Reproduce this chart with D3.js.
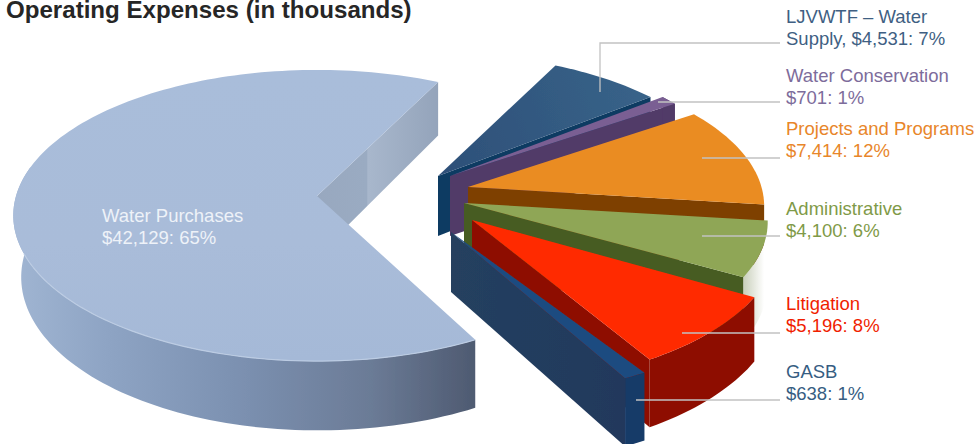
<!DOCTYPE html>
<html><head><meta charset="utf-8">
<script src="https://cdn.jsdelivr.net/npm/d3@7"></script>
<style>html,body{margin:0;padding:0;background:#fff}svg{display:block}text{font-family:"Liberation Sans",Arial,sans-serif}</style>
</head><body><svg id="c" width="979" height="444"></svg>
<script>
// ---- data ----
const categories = ["Water Purchases","LJVWTF – Water Supply","Water Conservation","Projects and Programs","Administrative","Litigation","GASB"];
const values = [42129,4531,701,7414,4100,5196,638];
const percents = [65,7,1,12,6,8,1];

// ---- style / layout ----
const topColors  = ["#a8bcd9","#34597f","#7a5f93","#ea8c24","#8fa657","#ff2a00","#1f4c80"];
const sideColors = ["#8d9fb8","#0f3a62","#513a68","#7e3f00","#465c22","#8e1000","#24395a"];
const rimColors  = ["url(#bigRim)",null,"#513a68",null,"url(#paleRim)","#8e1000","#143a68"];
const origins = [[317,196],[438,176],[450,176],[468,187],[464,203],[472,220],[451,232]];
const radiusScale = [1,0.97,0.97,0.975,1.0,1.01,1.1];
const yScale = [1,1,1,1,0.97,1,0.925];
const labelColors = ["#eef2f8","#3f5f83","#7d6c9b","#e8862a","#7f9a48","#f01e00","#365d82"];
const labelLines = [
  ["Water Purchases","$42,129: 65%"],
  ["LJVWTF – Water","Supply, $4,531: 7%"],
  ["Water Conservation","$701: 1%"],
  ["Projects and Programs","$7,414: 12%"],
  ["Administrative","$4,100: 6%"],
  ["Litigation","$5,196: 8%"],
  ["GASB","$638: 1%"]];
const labelPos = [[102,222],[786,23],[786,82],[786,135],[786,215],[786,310],[786,378]];
const leaders = [null,[[600,92],[600,43],[780,43]],[[658,102],[780,102]],[[702,158],[780,158]],[[702,236],[780,236]],[[682,333],[780,333]],[[636,400],[780,400]]];

const R=301,tilt=0.475,persp=0.134,depth=60;
const deg=Math.PI/180;
const startA=152.4*deg;

const svg=d3.select("#c");
const defs=svg.append("defs");
defs.append("filter").attr("id","soft").attr("x","-5%").attr("y","-5%").attr("width","110%").attr("height","110%")
  .append("feGaussianBlur").attr("stdDeviation",0.55);
function grad(id,x1,y1,x2,y2,stops){
  const g=defs.append("linearGradient").attr("id",id).attr("gradientUnits","userSpaceOnUse")
    .attr("x1",x1).attr("y1",y1).attr("x2",x2).attr("y2",y2);
  stops.forEach(s=>g.append("stop").attr("offset",s[0]).attr("stop-color",s[1]));
}
grad("bigRim",15,0,472,0,[[0,"#a0b5d2"],[0.2,"#8ea4c4"],[0.5,"#7b90b0"],[0.78,"#6b7b96"],[1,"#4f5b72"]]);
grad("bigInner",317,0,441,0,[[0,"#98a8bf"],[0.4,"#9aabc2"],[0.41,"#a8b7cc"],[1,"#93a3ba"]]);
grad("bigTop",0,70,0,360,[[0,"#a9bdda"],[0.6,"#a9bcd9"],[1,"#a5b9d7"]]);
grad("ljvTop",438,176,650,100,[[0,"#2d4f78"],[1,"#386389"]]);
grad("paleRim",745,0,764,0,[[0,"#cdd3c0"],[1,"#ffffff"]]);
grad("gasbSide",451,0,640,0,[[0,"#25405f"],[1,"#20385c"]]);

const pie=d3.pie().sort(null).startAngle(startA).endAngle(startA+2*Math.PI);
const arcs=pie(values);
const line=d3.line();

function proj(i,a,r,h){
  const x=Math.sin(a)*r,z=-Math.cos(a)*r,rr=R*radiusScale[i];
  const f=1/(1-persp*z);
  // the big slice's lower edge is slightly bevelled on its far-left side
  const inset=(i===0&&x<0)?(h/depth)*8*(-x):0;
  return [origins[i][0]+rr*x*f+inset, origins[i][1]+(rr*tilt*yScale[i]*z+h)*f];
}
function arcPts(i,a0,a1,h){
  const n=Math.max(2,Math.ceil(Math.abs(a1-a0)/(1.5*deg)));
  return d3.range(n+1).map(k=>proj(i,a0+(a1-a0)*k/n,1,h));
}
const pieG=svg.append("g").attr("filter","url(#soft)");
arcs.forEach((d,i)=>{
  const g=pieG.append("g");
  const A=d.startAngle,B=d.endAngle;
  const side = i===0?"url(#bigInner)":(i===6?"url(#gasbSide)":sideColors[i]);
  const top = i===0?"url(#bigTop)":(i===1?"url(#ljvTop)":topColors[i]);
  // the radial wall at the clockwise end is the one facing the viewer
  const wall=[proj(i,B,0,0),proj(i,B,1,0),proj(i,B,1,depth),proj(i,B,0,depth)];
  g.append("path").attr("d",line(wall)+"Z").attr("fill",side);
  // outer rim wall: only the part that faces the viewer (the big slice wraps round the far side)
  const rimEnd=i===0?282*deg:B;
  if(rimColors[i]){
    const up=arcPts(i,A,rimEnd,0),down=arcPts(i,rimEnd,A,depth);
    g.append("path").attr("d",line(up.concat(down))+"Z").attr("fill",rimColors[i]);
  }
  g.append("path").attr("d",line([proj(i,A,0,0)].concat(arcPts(i,A,B,0)))+"Z").attr("fill",top);
  if(i===0) g.append("path").attr("d",line(arcPts(i,A,A+95*deg,0))).attr("fill","none").attr("stroke","#bccce3").attr("stroke-width",1.2);
});

// leader lines
svg.append("g").selectAll("path").data(leaders.filter(Boolean)).join("path")
  .attr("d",d=>line(d)).attr("fill","none").attr("stroke","#c2c2c2").attr("stroke-width",1.3);

// labels
labelLines.forEach((ls,i)=>{
  ls.forEach((t,j)=>svg.append("text").attr("x",labelPos[i][0]).attr("y",labelPos[i][1]+j*22.3)
    .attr("font-size",18.5).attr("fill",labelColors[i]).text(t));
});
svg.append("text").attr("x",6).attr("y",18).attr("font-size",24.1).attr("font-weight","bold").attr("fill","#262626")
  .text("Operating Expenses (in thousands)");
</script></body></html>
